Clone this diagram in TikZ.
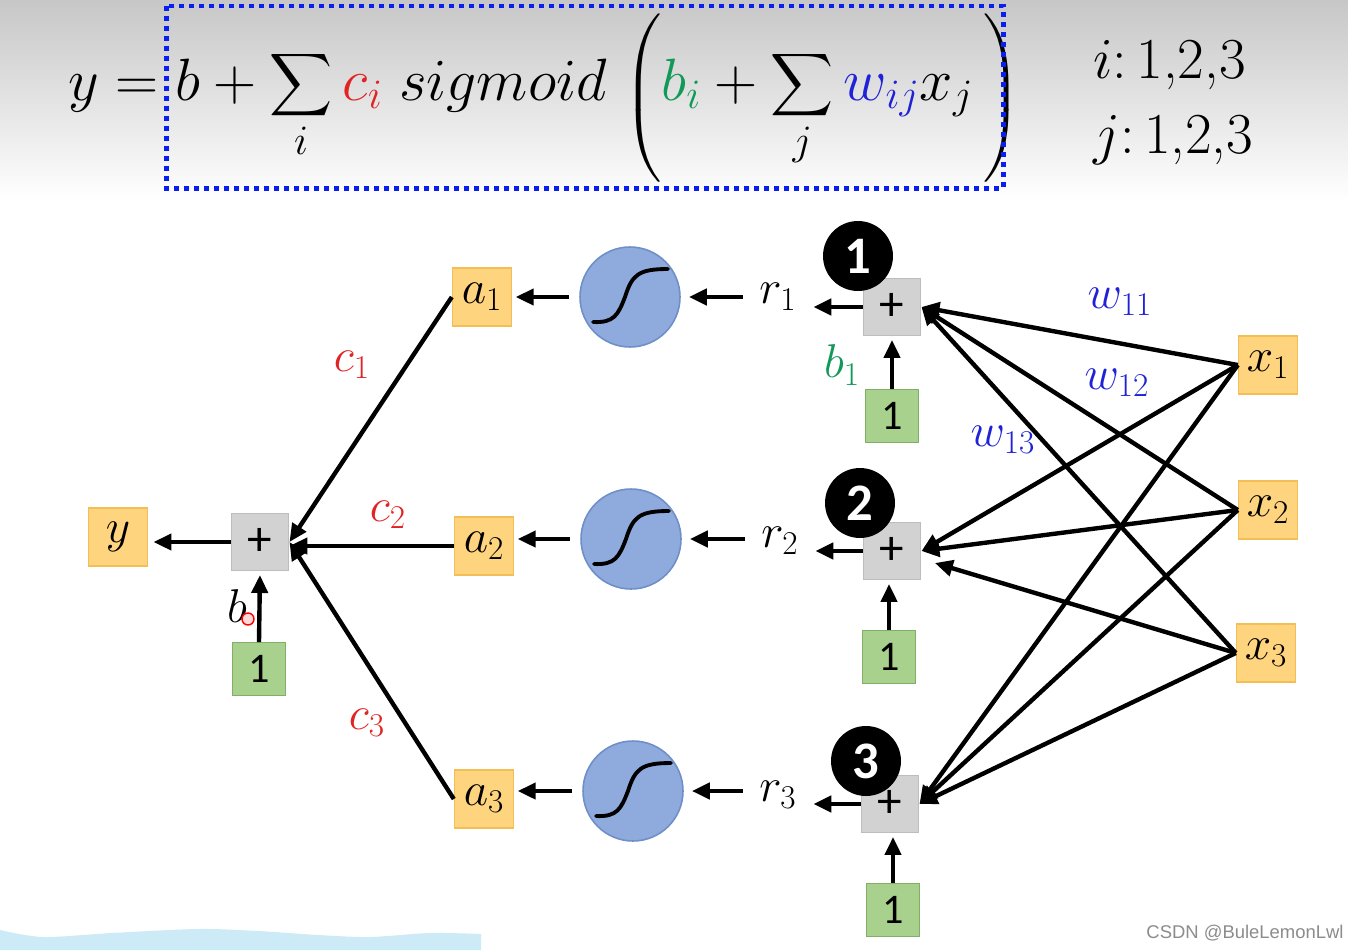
\RequirePackage{fix-cm}
\documentclass[tikz,border=0pt]{standalone}
\usepackage{amsmath}
\usepackage{graphicx}
\usepackage{fontspec}
\usetikzlibrary{arrows.meta,calc}
\newfontfamily\calib{Carlito}
\newfontfamily\wmf{Liberation Sans}
\definecolor{orfill}{HTML}{FFD47F}
\definecolor{orbord}{HTML}{F2BE55}
\definecolor{gyfill}{HTML}{D2D2D2}
\definecolor{gybord}{HTML}{BDBDBD}
\definecolor{grfill}{HTML}{A9D18E}
\definecolor{grbord}{HTML}{80B065}
\definecolor{blfill}{HTML}{8FAADC}
\definecolor{blbord}{HTML}{6F8FC8}
\definecolor{fred}{HTML}{E02424}
\definecolor{fgreen}{HTML}{12995A}
\definecolor{fblue}{HTML}{1F22D6}
\definecolor{boxblue}{HTML}{0A1EF0}
\definecolor{wavec}{HTML}{CDEBF7}
\newcommand\labfont{\fontsize{27}{30}\selectfont}
\newcommand\frmfont{\fontsize{34}{40}\selectfont}
\newcommand\rngfont{\fontsize{33}{40}\selectfont}
\newcommand\myparL{\mathopen{\raisebox{-0.2em}{\scalebox{1}[0.92]{$\Biggl($}}}}
\newcommand\myparR{\mathclose{\raisebox{-0.2em}{\scalebox{1}[0.92]{$\Biggr)$}}}}
\begin{document}
\begin{tikzpicture}[x=0.02cm,y=-0.02cm,
  orbox/.style={draw=orbord,fill=orfill,line width=0.8pt,minimum width=1.18cm,minimum height=1.16cm,inner sep=0pt,font=\labfont},
  plusbox/.style={draw=gybord,fill=gyfill,line width=0.8pt,minimum size=1.15cm,inner sep=0pt,font=\calib\fontsize{28}{28}\selectfont},
  onebox/.style={draw=grbord,fill=grfill,line width=0.8pt,minimum size=1.05cm,inner sep=0pt,font=\calib\fontsize{24}{24}\selectfont},
  sigc/.style={circle,draw=blbord,fill=blfill,line width=0.9pt,minimum size=2.0cm,inner sep=0pt},
  numc/.style={circle,fill=black,minimum size=1.4cm,inner sep=0pt,text=white,font=\calib\bfseries\fontsize{30}{30}\selectfont},
  lab/.style={inner sep=0pt,font=\labfont},
  rnode/.style={inner sep=0pt,minimum width=1.4cm,font=\labfont},
  arr/.style={line width=2.5pt,-{Triangle[length=0.36cm,width=0.32cm]}},
  sigline/.style={line width=2.2pt,line cap=round},
  sigcurve/.pic={\draw[sigline] (-37,25) .. controls (-16,26) and (-12,18) .. (-5,0) .. controls (2,-22) and (8,-28) .. (38,-28);}
]
\useasboundingbox (0,0) rectangle (1348,950);
\fill[white] (0,0) rectangle (1348,950);
\shade[top color=black!22,bottom color=white] (0,0) rectangle (1348,200);
\fill[wavec] (0,950) -- (0,930) -- plot[smooth] coordinates {(0,930)(43,937)(112,933)(198,929)(258,931)(318,935)(370,937)(430,933)(481,934)} -- (481,950) -- cycle;

% formula
\node[anchor=base west,inner sep=0pt,font=\frmfont] (formula) at (68,100)
  {$\displaystyle y = b + \sum_{i} \textcolor{fred}{c_i}\; sigmoid\;\myparL\textcolor{fgreen}{b_i} + \sum_{j} \textcolor{fblue}{w_{ij}} x_j\,\myparR$};
\draw[boxblue,line width=0.1cm,dash pattern=on 0.1cm off 0.1cm] (166,6) rectangle (1003,188);
\node[anchor=base west,inner sep=0pt,font=\rngfont] (irange) at (1093,78) {$i$:\,1,2,3};
\node[anchor=base west,inner sep=0pt,font=\rngfont] (jrange) at (1093,153) {$j$:\,1,2,3};

% left part
\node[orbox] (y) at (118,537) {$y$};
\node[plusbox] (pL) at (260,542) {+};
\node[onebox] (g0) at (259,669) {1};
\draw[arr,shorten >=3pt] (pL.west) -- (pL.west -| y.east);
\draw[arr,shorten >=2pt] (g0.north) -- (pL.south);
\node[lab] (blab) at (237,606) {$b$};
\draw[red,line width=0.8pt,fill=red!15] (248,619) circle (6);

% a boxes
\node[orbox] (a1) at (482,297) {$a_1$};
\node[orbox] (a2) at (484,546) {$a_2$};
\node[orbox] (a3) at (484,799) {$a_3$};
\draw[arr] (a1.west) -- (pL.east);
\draw[arr] (a2.west) -- (a2.west -| pL.east);
\draw[arr] (a3.west) -- (pL.east);
\node[lab,text=fred] (c1) at (352,365) {$c_1$};
\node[lab,text=fred] (c2) at (388,515) {$c_2$};
\node[lab,text=fred] (c3) at (367,723) {$c_3$};

% sigmoid circles
\node[sigc] (s1) at (630,297) {};
\node[sigc] (s2) at (631,539) {};
\node[sigc] (s3) at (633,791) {};
\pic at (s1) {sigcurve};
\pic at (s2) {sigcurve};
\pic at (s3) {sigcurve};
\draw[arr,shorten <=0.2cm,shorten >=2pt] (s1.west) -- (s1.west -| a1.east);
\draw[arr,shorten <=0.2cm,shorten >=2pt] (s2.west) -- (s2.west -| a2.east);
\draw[arr,shorten <=0.2cm,shorten >=2pt] (s3.west) -- (s3.west -| a3.east);

% r nodes
\node[rnode] (r1) at (778,297) {$r_1$};
\node[rnode] (r2) at (780,541) {$r_2$};
\node[rnode] (r3) at (778,795) {$r_3$};
\draw[arr,shorten >=0.16cm] (r1.west |- s1.east) -- (s1.east);
\draw[arr,shorten >=0.16cm] (r2.west |- s2.east) -- (s2.east);
\draw[arr,shorten >=0.16cm] (r3.west |- s3.east) -- (s3.east);

% plus boxes right
\node[plusbox] (p1) at (892,307) {+};
\node[plusbox] (p2) at (892,551) {+};
\node[plusbox] (p3) at (890,804) {+};
\draw[arr] (p1.west) -- (p1.west -| r1.east);
\draw[arr] (p2.west) -- (p2.west -| r2.east);
\draw[arr] (p3.west) -- (p3.west -| r3.east);
\node[onebox] (g1) at (892,416) {1};
\node[onebox] (g2) at (889,657) {1};
\node[onebox] (g3) at (893,910) {1};
\draw[arr,shorten >=2pt] (g1.north) -- (g1.north |- p1.south);
\draw[arr,shorten >=2pt] (g2.north) -- (g2.north |- p2.south);
\draw[arr,shorten >=2pt] (g3.north) -- (g3.north |- p3.south);
\node[lab,text=fgreen] (b1) at (842,365) {$b_1$};
\node[numc] (n1) at (858,256) {1};
\node[numc] (n2) at (860,503) {2};
\node[numc] (n3) at (866,761) {3};

% x boxes
\node[orbox] (x1) at (1268,365) {$x_1$};
\node[orbox] (x2) at (1268,510) {$x_2$};
\node[orbox] (x3) at (1266,653) {$x_3$};
\draw[arr] (x1.west) -- (p1.east);
\draw[arr] (x2.west) -- (p1.east);
\draw[arr] (x3.west) -- (p1.east);
\draw[arr] (x1.west) -- (p2.east);
\draw[arr] (x2.west) -- (p2.east);
\draw[arr,shorten >=0.28cm] (x3.west) -- ($(p2.east)+(0,8)$);
\draw[arr] (x1.west) -- (p3.east);
\draw[arr] (x2.west) -- (p3.east);
\draw[arr] (x3.west) -- (p3.east);
\node[lab,text=fblue] (w11) at (1120,302) {$w_{11}$};
\node[lab,text=fblue] (w12) at (1117,383) {$w_{12}$};
\node[lab,text=fblue] (w13) at (1003,440) {$w_{13}$};

\node[text=black!45,font=\wmf\fontsize{10.5}{12}\selectfont,inner sep=0pt] (wm) at (1245,933) {CSDN @BuleLemonLwl};
\end{tikzpicture}
\end{document}
